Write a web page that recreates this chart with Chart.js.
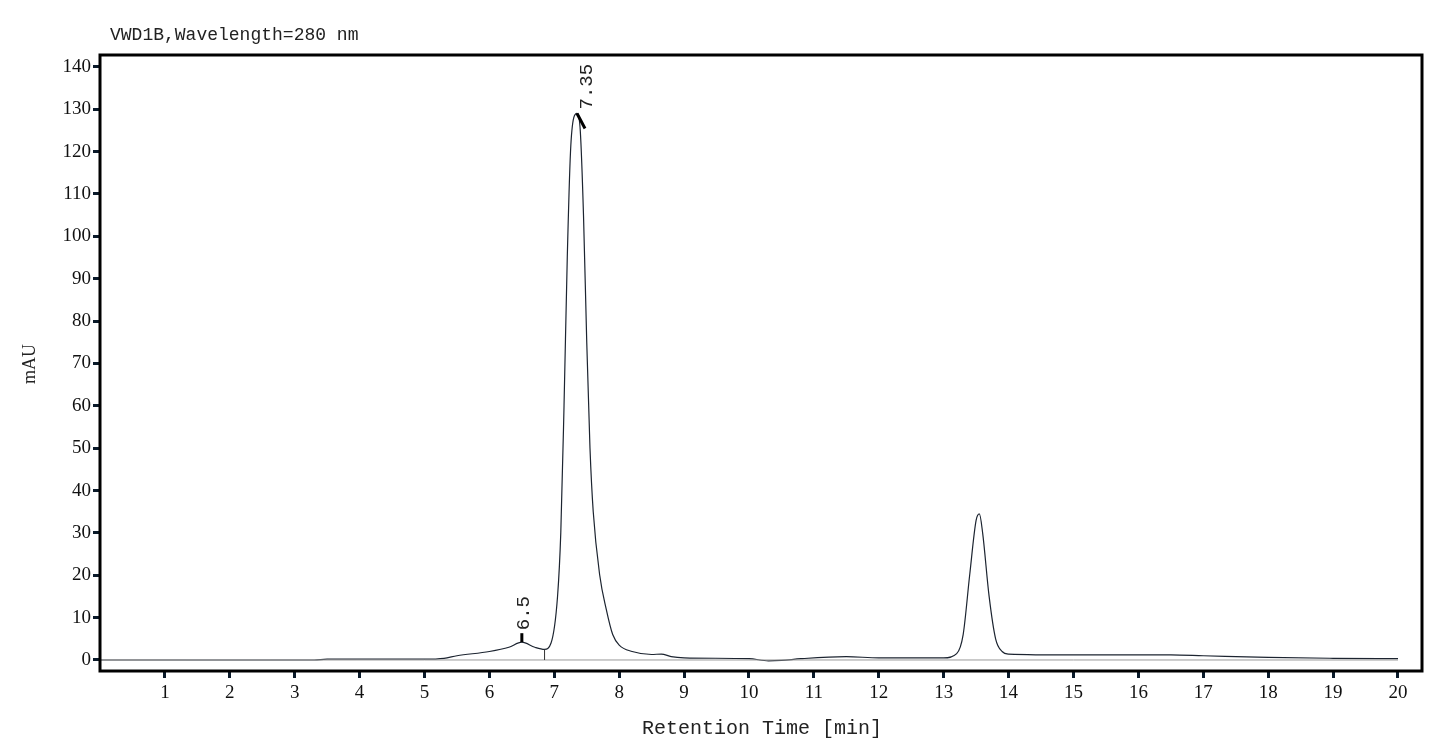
<!DOCTYPE html>
<html><head><meta charset="utf-8">
<script src="https://cdn.jsdelivr.net/npm/chart.js@4/dist/chart.umd.min.js"></script>
<style>html,body{margin:0;background:#fff}#w{width:1445px;height:743px}</style>
</head><body><div id="w"><canvas id="c"></canvas></div>
<script>
const times = [0,3.3,3.5,5,5.3,5.5,6,6.3,6.5,6.7,6.85,6.95,7.05,7.1,7.15,7.2,7.25,7.3,7.35,7.4,7.45,7.5,7.55,7.6,7.7,7.8,7.9,8.0,8.2,8.5,8.65,8.8,9,10,10.3,10.5,10.8,11.5,12,13,13.2,13.3,13.4,13.5,13.55,13.6,13.7,13.8,13.9,14,15,16.5,17,18,19,20];
const signal = [0,0,0.2,0.2,0.4,1,2,3,4.2,3,2.5,4,15,30,60,95,120,128,129,125,105,75,50,35,20,12,6,3.5,2,1.3,1.4,0.8,0.5,0.3,-0.2,-0.1,0.3,0.8,0.5,0.5,1.5,6,20,33,34.5,30,15,5,2,1.4,1.2,1.2,1.0,0.6,0.4,0.3];
const peakLabels = [{t:6.5,v:4.2,text:'6.5'},{t:7.35,v:129,text:'7.35'}];
const baselineSegment = [{x:0,y:0},{x:20,y:0}];
const dropLine = {t:6.85,v:2.5};
const title = 'VWD1B,Wavelength=280 nm';
const serif = '"Liberation Serif", serif';
const mono = '"Liberation Mono", monospace';
const deco = {id:'deco',afterDraw(ch){
  const c=ch.ctx,a=ch.chartArea,x=ch.scales.x,y=ch.scales.y;
  c.save();
  c.strokeStyle='#000';c.lineWidth=3;c.strokeRect(a.left,a.top,a.right-a.left,a.bottom-a.top);
  c.lineWidth=1;c.strokeStyle='#333';
  c.beginPath();c.moveTo(x.getPixelForValue(dropLine.t),y.getPixelForValue(0));c.lineTo(x.getPixelForValue(dropLine.t),y.getPixelForValue(dropLine.v));c.stroke();
  c.fillStyle='#222';c.font='18px '+mono;c.textBaseline='alphabetic';c.fillText(title,110,40);
  c.font='20px '+mono;c.textAlign='center';c.fillText('Retention Time [min]',762,734);
  c.font='18px '+serif;c.save();c.translate(35,364);c.rotate(-Math.PI/2);c.fillText('mAU',0,0);c.restore();
  c.font='19px '+mono;
  peakLabels.forEach(p=>{const px=x.getPixelForValue(p.t),py=y.getPixelForValue(p.v);
    c.lineWidth=3;c.strokeStyle='#000';c.beginPath();
    if(p.v>50){c.moveTo(px,py);c.lineTo(px+8,py+15);}else{c.moveTo(px,py);c.lineTo(px,py-9);}
    c.stroke();
    c.save();c.translate(px+(p.v>50?15:7),py-(p.v>50?4:12));c.rotate(-Math.PI/2);c.textAlign='left';c.fillText(p.text,0,0);c.restore();});
  c.restore();}};
new Chart(document.getElementById('c'),{type:'scatter',
 data:{datasets:[
  {data:baselineSegment,showLine:true,borderColor:'#999',borderWidth:1,pointRadius:0},
  {data:times.map((t,i)=>({x:t,y:signal[i]})),showLine:true,borderColor:'#1c2430',borderWidth:1.2,pointRadius:0,tension:0.4,cubicInterpolationMode:'monotone'}]},
 options:{animation:false,responsive:true,maintainAspectRatio:false,
  layout:{padding:{top:55,right:23,left:0,bottom:0}},
  plugins:{legend:{display:false},tooltip:{enabled:false}},
  scales:{
   x:{type:'linear',min:0,max:20.37,afterFit(s){s.height=72;},
     afterBuildTicks(s){s.ticks=[];for(let i=1;i<=20;i++)s.ticks.push({value:i});},
     grid:{drawOnChartArea:false,tickLength:7,tickWidth:3,tickColor:'#0a1a2a',drawBorder:false},border:{display:false},
     ticks:{color:'#111',font:{family:serif,size:19},padding:4,maxRotation:0}},
   y:{min:-2.6,max:142.8,afterFit(s){s.width=100;},
     afterBuildTicks(s){s.ticks=[];for(let i=0;i<=140;i+=10)s.ticks.push({value:i});},
     grid:{drawOnChartArea:false,tickLength:7,tickWidth:3,tickColor:'#0a1a2a'},border:{display:false},
     ticks:{color:'#111',font:{family:serif,size:19},padding:2}}}},
 plugins:[deco]});
</script></body></html>
